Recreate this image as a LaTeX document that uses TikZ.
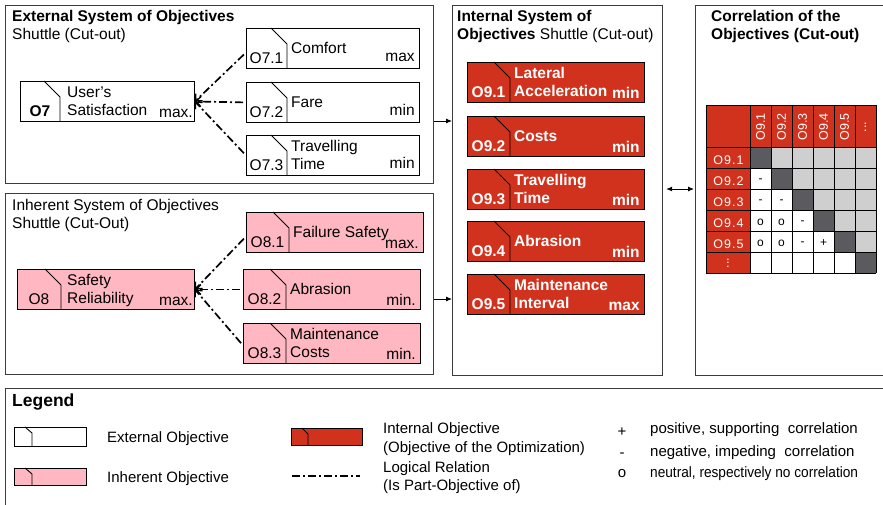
\documentclass[tikz,border=0pt]{standalone}
\usepackage{fontspec}
\setmainfont{Liberation Sans}
\newfontfamily\trackedfont[LetterSpace=8]{Liberation Sans}
\usetikzlibrary{arrows.meta}

\definecolor{objred}{RGB}{209,50,29}
\definecolor{objpink}{RGB}{255,183,193}
\definecolor{celldark}{RGB}{90,90,95}
\definecolor{celllight}{RGB}{207,207,207}
\definecolor{framegray}{RGB}{60,60,60}

\newcommand{\threedots}{...}

\tikzset{
  txt/.style={inner sep=0pt, font=\fontsize{15.5}{18}\selectfont},
  boldtxt/.style={inner sep=0pt, font=\fontsize{15.5}{18}\selectfont\bfseries},
  legtxt/.style={inner sep=0pt, font=\fontsize{15}{19}\selectfont},
  sysframe/.style={draw=framegray, line width=1.1pt, anchor=north west, inner sep=0pt},
  % objective boxes: external (white), inherent (pink), internal (red)
  extobj/.style={draw=black, fill=white, line width=0.9pt, minimum height=40pt, inner sep=0pt},
  extobj rule/.style={black, line width=0.9pt},
  extobj label/.style={txt, text=black},
  extobj name/.style={},
  extobj mm/.style={yshift=7pt},
  extmain/.style={extobj},
  extmain rule/.style={extobj rule},
  extmain label/.style={extobj label},
  extmain name/.style={xshift=3pt},
  extmain mm/.style={xshift=3pt, yshift=4.5pt},
  inhobj/.style={extobj, fill=objpink},
  inhobj rule/.style={extobj rule},
  inhobj label/.style={txt, text=black},
  inhobj name/.style={},
  inhobj mm/.style={yshift=4.5pt},
  inhmain/.style={inhobj},
  inhmain rule/.style={extobj rule},
  inhmain label/.style={inhobj label},
  inhmain name/.style={xshift=2pt},
  inhmain mm/.style={xshift=3pt, yshift=4.5pt},
  intobj/.style={extobj, fill=objred},
  intobj rule/.style={extobj rule},
  intobj label/.style={boldtxt, text=white},
  intobj name/.style={},
  intobj mm/.style={yshift=4pt},
  logic/.style={line width=1.7pt, dash pattern=on 8pt off 3pt on 2pt off 3pt},
  logicarrow/.style={logic, shorten <=3pt, -{Straight Barb[length=5pt,width=10pt,line width=1.4pt]}},
  flow/.style={line width=0.9pt, -{Latex[length=6pt,width=5pt]}},
  gridline/.style={black, line width=1pt},
  hdlabel/.style={inner sep=0pt, text=white, font=\fontsize{12.5}{14}\selectfont},
  rowlabel/.style={inner sep=0pt, text=white, font=\trackedfont\fontsize{12.5}{14}\selectfont},
  cellsym/.style={inner sep=0pt, font=\fontsize{12}{14}\selectfont},
}

% #1 name, #2 kind, #3 x, #4 y, #5 width, #6 divider offset, #7 id, #8 name text, #9 min/max
\newcommand{\objbox}[9]{%
  \node[#2, minimum width=#5pt, anchor=north west] (#1) at (#3,#4) {};
  \draw[#2 rule] ([xshift=(#6-16)*1pt]#1.north west) -- ++(16,16) -- ([xshift=#6*1pt]#1.south west);
  \node[#2 label, anchor=base] (#1id) at ([xshift=#6*0.5pt, yshift=5.5pt]#1.south west) {#7};
  \node[#2 label, #2 name, align=left, anchor=west] (#1txt) at ([xshift=(#6+4)*1pt, yshift=-1.9pt]#1.west) {#8};
  \node[#2 label, #2 mm, anchor=base east] (#1mm) at ([xshift=-5pt]#1.south east) {#9};
}

\begin{document}
\begin{tikzpicture}[x=1pt,y=-1pt]
\clip (0,0) rectangle (883,504);
\fill[white] (0,0) rectangle (883,504);

% system frames
\node[sysframe, minimum width=428pt, minimum height=178pt] (extsys) at (5,5) {};
\node[sysframe, minimum width=428pt, minimum height=181pt] (inhsys) at (5,193) {};
\node[sysframe, minimum width=210pt, minimum height=370pt] (intsys) at (452,5) {};
\node[sysframe, minimum width=220pt, minimum height=370pt] (corsys) at (695,5) {};
\node[sysframe, minimum width=900pt, minimum height=140pt] (legend) at (5,388) {};

% frame titles
\node[boldtxt, anchor=base west] (t1a) at (12,21.5) {External System of Objectives};
\node[txt, anchor=base west] (t1b) at (12,39.5) {Shuttle (Cut-out)};
\node[txt, anchor=base west] (t2a) at (12,210.5) {Inherent System of Objectives};
\node[txt, anchor=base west] (t2b) at (12,228.5) {Shuttle (Cut-Out)};
\node[boldtxt, anchor=base west] (t3a) at (457,21.5) {Internal System of};
\node[txt, anchor=base west] (t3b) at (457,39.5) {\textbf{Objectives} Shuttle (Cut-out)};
\node[boldtxt, anchor=base west] (t4a) at (711,21.5) {Correlation of the};
\node[boldtxt, anchor=base west] (t4b) at (711,39) {Objectives (Cut-out)};

% external objectives
\objbox{o7}{extmain}{20}{81}{174}{40}{\textbf{O7}}{\strut User's\\\strut Satisfaction}{max.}
\objbox{o71}{extobj}{246}{28}{173}{41}{O7.1}{\strut Comfort}{max}
\objbox{o72}{extobj}{246}{82}{173}{41}{O7.2}{\strut Fare}{min}
\objbox{o73}{extobj}{246}{135}{173}{41}{O7.3}{\strut Travelling\\\strut Time}{min}

% inherent objectives
\objbox{o8}{inhmain}{17}{269}{177}{44}{O8}{\strut Safety\\\strut Reliability}{max.}
\objbox{o81}{inhobj}{246}{212}{177}{43}{O8.1}{\strut Failure Safety}{max.}
\objbox{o82}{inhobj}{243}{269}{177}{43}{O8.2}{\strut Abrasion}{min.}
\objbox{o83}{inhobj}{243}{323}{177}{43}{O8.3}{\strut Maintenance\\\strut Costs}{min.}

% internal objectives
\objbox{o91}{intobj}{467}{62}{177}{43}{O9.1}{\strut Lateral\\\strut Acceleration}{min}
\objbox{o92}{intobj}{467}{116}{177}{43}{O9.2}{\strut Costs}{min}
\objbox{o93}{intobj}{467}{169}{177}{43}{O9.3}{\strut Travelling\\\strut Time}{min}
\objbox{o94}{intobj}{467}{221}{177}{43}{O9.4}{\strut Abrasion}{min}
\objbox{o95}{intobj}{467}{274}{177}{43}{O9.5}{\strut Maintenance\\\strut Interval}{max}

% logical relations (part-objective of)
\draw[logicarrow] ([yshift=-4pt]o71.west) -- (o7.east);
\draw[logicarrow] (o72.west) -- (o7.east);
\draw[logicarrow] (o73.west) -- (o7.east);
\draw[logicarrow] ([yshift=-4pt]o81.west) -- (o8.east);
\draw[logicarrow] (o82.west) -- (o8.east);
\draw[logicarrow] ([yshift=-2pt]o83.west) -- (o8.east);

% flows between the systems
\coordinate (fl1) at (440,121);
\coordinate (fl2) at (440,299);
\coordinate (fl3) at (680,189);
\draw[flow] (extsys.east |- fl1) -- (intsys.west |- fl1);
\draw[flow] (inhsys.east |- fl2) -- (intsys.west |- fl2);
\draw[flow, {Latex[length=6pt,width=5pt]}-{Latex[length=6pt,width=5pt]}, shorten <=3pt, shorten >=1pt] (intsys.east |- fl3) -- (corsys.west |- fl3);

% correlation matrix
\fill[objred] (706,105) rectangle (876,147);
\fill[objred] (706,147) rectangle (750,273);
\foreach \i in {0,1,2,3,4,5}{
  \foreach \j in {0,1,2,3,4,5}{
    \ifnum\j=\i
      \fill[celldark] (750+21*\j,147+21*\i) rectangle ++(21,21);
    \else\ifnum\j>\i
      \fill[celllight] (750+21*\j,147+21*\i) rectangle ++(21,21);
    \else
      \fill[white] (750+21*\j,147+21*\i) rectangle ++(21,21);
    \fi\fi
  }
}
\foreach \x in {706,750,771,792,813,834,855,876}
  \draw[gridline] (\x,105) -- (\x,273);
\foreach \y in {105,147,168,189,210,231,252,273}
  \draw[gridline] (706,\y) -- (876,\y);

\foreach \k/\lab in {0/O9.1,1/O9.2,2/O9.3,3/O9.4,4/O9.5}{
  \node[hdlabel, rotate=90] (hd\k) at (760.5+21*\k,127) {\lab};
  \node[rowlabel] (rw\k) at (728.5,160.5+21*\k) {\lab};
}
\node[hdlabel, rotate=90] (hd5) at (865.5,127) {\threedots};
\node[hdlabel, rotate=90] (rw5) at (728,263) {\threedots};
\foreach \i/\j/\s in {1/0/-,2/0/-,2/1/-,3/0/o,3/1/o,3/2/-,4/0/o,4/1/o,4/2/-,4/3/+}
  \node[cellsym] (c\i\j) at (760.5+21*\j,159.5+21*\i) {\s};

% legend
\node[inner sep=0pt, anchor=base west, font=\fontsize{17.5}{20}\selectfont\bfseries] (legtitle) at (12,406.3) {Legend};

\node[extobj, minimum width=72pt, minimum height=19pt, anchor=north west] (legext) at (14,427) {};
\draw[extobj rule] ([xshift=11pt]legext.north west) -- ++(7,6) -- ([xshift=18pt]legext.south west);
\node[legtxt, anchor=base west] (legextt) at (107,442.4) {External Objective};

\node[inhobj, minimum width=72pt, minimum height=17pt, anchor=north west] (leginh) at (14,468) {};
\draw[inhobj rule] ([xshift=11pt]leginh.north west) -- ++(7,6) -- ([xshift=18pt]leginh.south west);
\node[legtxt, anchor=base west] (leginht) at (107,482.4) {Inherent Objective};

\node[intobj, minimum width=71pt, minimum height=17pt, anchor=north west] (legint) at (291,428) {};
\draw[intobj rule] ([xshift=11pt]legint.north west) -- ++(6,6) -- ([xshift=17pt]legint.south west);
\node[legtxt, anchor=base west] (legintt) at (383,433.4) {Internal Objective};
\node[legtxt, anchor=base west] (legintu) at (383,452.4) {(Objective of the Optimization)};

\coordinate (lgA) at (292,476);
\coordinate (lgB) at (360,476);
\draw[logic] (lgA) -- (lgB);
\node[legtxt, anchor=base west] (leglogt) at (383,472.4) {Logical Relation};
\node[legtxt, anchor=base west] (leglogu) at (383,490.4) {(Is Part-Objective of)};

\node[legtxt, anchor=base] (legplus) at (622,436) {+};
\node[legtxt, anchor=base] (legminus) at (622,457) {-};
\node[legtxt, anchor=base] (legzero) at (622,477) {o};
\node[legtxt, anchor=base west] (legplust) at (650,433) {positive, supporting\ \ correlation};
\node[legtxt, anchor=base west] (legminust) at (650,456) {negative, impeding\ \ correlation};
\node[legtxt, anchor=base west] (legzerot) at (650,477) {\scalebox{0.91}[1]{neutral, respectively no correlation}};
\end{tikzpicture}
\end{document}
